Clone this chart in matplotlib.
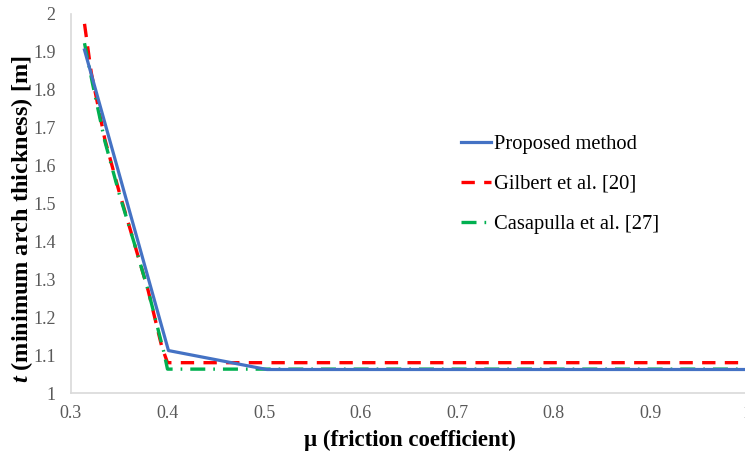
import matplotlib
matplotlib.use("Agg")
import matplotlib.pyplot as plt

plt.rcParams['font.family'] = ['Liberation Serif', 'DejaVu Serif']
plt.rcParams['mathtext.fontset'] = 'custom'
plt.rcParams['mathtext.rm'] = 'Liberation Serif'
plt.rcParams['mathtext.bf'] = 'Liberation Serif:bold'
plt.rcParams['mathtext.it'] = 'Liberation Serif:italic'
plt.rcParams['mathtext.bfit'] = 'Liberation Serif:bold:italic'

# Data
mu_proposed = [0.314, 0.401, 0.503, 1.0]
t_proposed = [1.905, 1.112, 1.062, 1.062]

mu_gilbert = [0.314, 0.321, 0.335, 0.35, 0.365, 0.38, 0.394, 0.400, 1.0]
t_gilbert = [1.974, 1.845, 1.67, 1.53, 1.40, 1.27, 1.123, 1.080, 1.080]

mu_casapulla = [0.314, 0.322, 0.335, 0.35, 0.365, 0.38, 0.396, 0.400, 1.0]
t_casapulla = [1.923, 1.82, 1.665, 1.525, 1.40, 1.27, 1.11, 1.063, 1.063]

x_ticks = [0.3, 0.4, 0.5, 0.6, 0.7, 0.8, 0.9, 1.0]
x_tick_labels = ['0.3', '0.4', '0.5', '0.6', '0.7', '0.8', '0.9', '1']
y_ticks = [1.0, 1.1, 1.2, 1.3, 1.4, 1.5, 1.6, 1.7, 1.8, 1.9, 2.0]
y_tick_labels = ['1', '1.1', '1.2', '1.3', '1.4', '1.5', '1.6', '1.7', '1.8', '1.9', '2']

fig = plt.figure(figsize=(7.45, 4.55), dpi=100)
ax = fig.add_axes([71/745, 1-393/455, 675.5/745, 379/455])

ax.plot(mu_proposed, t_proposed, color='#4472C4', lw=2.3, label='Proposed method', zorder=3)
ax.plot(mu_gilbert, t_gilbert, color='#FF0000', lw=2.4, dashes=(4, 2.8), label='Gilbert et al. [20]', zorder=2)
ax.plot(mu_casapulla, t_casapulla, color='#00B050', lw=2.4, dashes=(4.5, 2.4, 0.5, 2.4), label='Casapulla et al. [27]', zorder=2)

ax.set_xlim(0.3, 1.0)
ax.set_ylim(1.0, 2.0)
ax.set_xticks(x_ticks)
ax.set_xticklabels(x_tick_labels)
ax.set_yticks(y_ticks)
ax.set_yticklabels(y_tick_labels)
ax.tick_params(axis='both', length=0, labelsize=13, labelcolor='#595959')
ax.tick_params(axis='x', pad=9)
ax.tick_params(axis='y', pad=11)

for s in ['top', 'right']:
    ax.spines[s].set_visible(False)
for s in ['left', 'bottom']:
    ax.spines[s].set_color('#D9D9D9')
    ax.spines[s].set_linewidth(1.2)

ax.set_xlabel('μ (friction coefficient)', fontsize=16.5, fontweight='bold')
ax.xaxis.set_label_coords((410 - 71) / 675.5, (393 - 430) / 379)
ax.set_ylabel(r'$\mathbfit{t}$ (minimum arch thickness) [m]', fontsize=17.5, fontweight='bold')
ax.yaxis.set_label_coords((35 - 71) / 675.5, (393 - 219) / 379)

leg = ax.legend(loc='upper left', bbox_to_anchor=(0.55, 0.731), frameon=False, fontsize=14.8,
                handlelength=1.46, handletextpad=0.15, labelspacing=1.0)

fig.savefig('out.png', dpi=100)
